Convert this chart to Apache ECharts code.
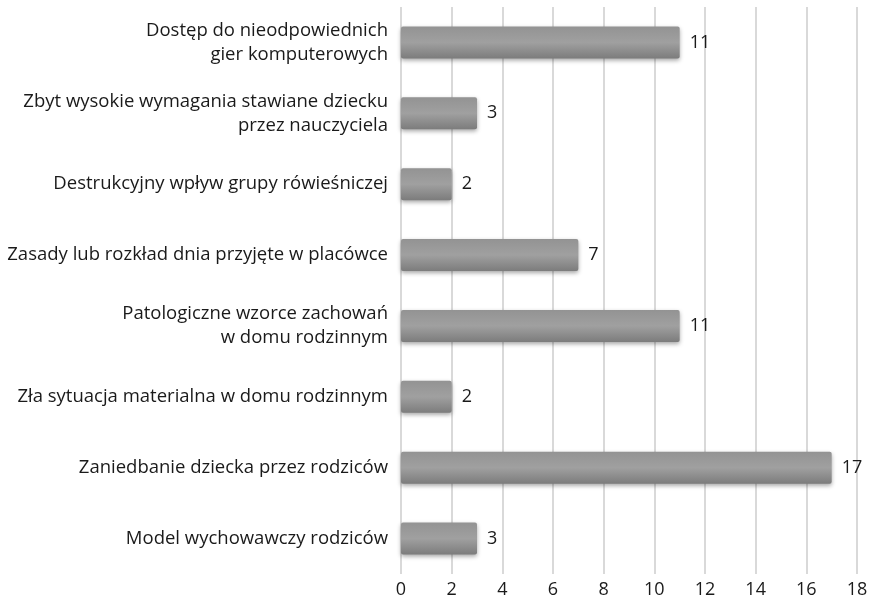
<!DOCTYPE html>
<html>
<head>
<meta charset="utf-8">
<script src="https://cdn.jsdelivr.net/npm/echarts@6/dist/echarts.min.js"></script>
<style>
  html, body { margin: 0; padding: 0; background: #fff; }
  #chart { width: 871px; height: 604px; }
</style>
</head>
<body>
<div id="chart"></div>
<script>
  // kategorie od góry do dołu
  const categories = [
    'Dostęp do nieodpowiednich\ngier komputerowych',
    'Zbyt wysokie wymagania stawiane dziecku\nprzez nauczyciela',
    'Destrukcyjny wpływ grupy rówieśniczej',
    'Zasady lub rozkład dnia przyjęte w placówce',
    'Patologiczne wzorce zachowań\nw domu rodzinnym',
    'Zła sytuacja materialna w domu rodzinnym',
    'Zaniedbanie dziecka przez rodziców',
    'Model wychowawczy rodziców'
  ];
  const values = [11, 3, 2, 7, 11, 2, 17, 3];
  const xTicks = [0, 2, 4, 6, 8, 10, 12, 14, 16, 18];

  const font = 'Open Sans';

  let myChart = echarts.init(document.getElementById('chart'));
  myChart.setOption({
    animation: false,
    grid: {
      top: 7,
      left: 401,
      right: 14,
      bottom: 30
    },
    xAxis: {
      type: 'value',
      min: xTicks[0],
      max: xTicks[xTicks.length - 1],
      interval: 2,
      axisLine: { show: false },
      axisTick: { show: false },
      axisLabel: {
        color: '#1a1a1a',
        fontFamily: font,
        fontSize: 18,
        margin: 7
      },
      splitLine: {
        show: true,
        lineStyle: { color: '#d9d9d9', width: 2 }
      }
    },
    yAxis: {
      type: 'category',
      inverse: true,
      data: categories,
      axisLine: { show: false },
      axisTick: { show: false },
      axisLabel: {
        color: '#1a1a1a',
        fontFamily: font,
        fontSize: 18.5,
        lineHeight: 24,
        margin: 13
      }
    },
    series: [{
      type: 'bar',
      data: values,
      barWidth: 32,
      itemStyle: {
        color: {
          type: 'linear',
          x: 0, y: 0, x2: 0, y2: 1,
          colorStops: [
            { offset: 0, color: '#939393' },
            { offset: 0.5, color: '#a0a0a0' },
            { offset: 1, color: '#7c7c7c' }
          ]
        },
        borderRadius: 2,
        shadowColor: 'rgba(0,0,0,0.35)',
        shadowBlur: 4,
        shadowOffsetY: 2
      },
      label: {
        show: true,
        position: 'right',
        distance: 10,
        color: '#1a1a1a',
        fontFamily: font,
        fontSize: 18
      }
    }]
  });

  window.addEventListener('resize', () => {
    myChart.resize();
  });
</script>
</body>
</html>
